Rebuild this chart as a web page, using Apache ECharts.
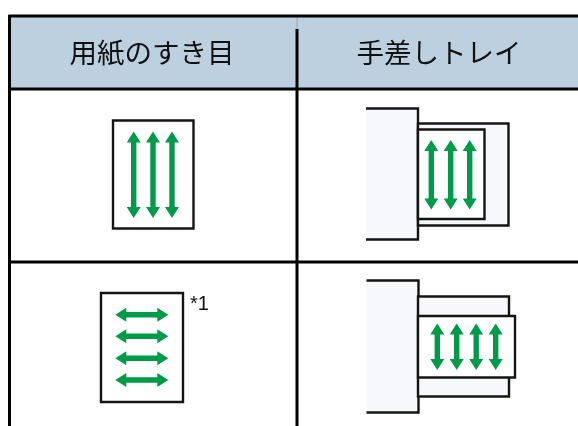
<!DOCTYPE html>
<html>
<head>
<meta charset="utf-8">
<style>html,body{margin:0;padding:0;background:#fff}#main{width:578px;height:426px}</style>
<script src="https://cdn.jsdelivr.net/npm/echarts@6/dist/echarts.min.js"></script>
</head>
<body>
<div id="main"></div>
<script>
var headers = [['用紙のすき目', 152, 53], ['手差しトレイ', 439, 53]];
var footnote = ['*1', 199.5, 304];

var headerBand = [[10, 16, 578, 89]];
var tableLines = [
    [9.5, 15, 9.5, 426],
    [297, 29, 297, 426],
    [8.5, 16, 578, 16],
    [9, 89, 578, 89],
    [9, 262, 578, 262]
];
var headerFaintLine = [[297, 17, 297, 29]];

// x0, y0, x1, y1
var sheets = [
    [113, 120.5, 193.5, 228.5],
    [101, 293, 183, 402],
    [418, 129.5, 484.5, 219],
    [418, 316, 515, 377.5]
];
var trays = [
    [418, 123.5, 508.5, 225.5],
    [418, 296.5, 509, 396.5]
];
// open on the left: only top, right and bottom get a line
var bodies = [
    [366, 108.5, 418, 239.5],
    [366.5, 280.5, 418.5, 412.5]
];

var grainUp = [
    [133.7, 131.5, 133.7, 218],
    [153, 131.5, 153, 218],
    [172, 131.5, 172, 218],
    [431.3, 140, 431.3, 209.5],
    [450.7, 140, 450.7, 209.5],
    [469.7, 140, 469.7, 209.5],
    [437.3, 323.5, 437.3, 370],
    [456.7, 323.5, 456.7, 370],
    [476.2, 323.5, 476.2, 370],
    [495.7, 323.5, 495.7, 370]
];
var grainAcross = [
    [115.3, 314.7, 168.3, 314.7],
    [115.3, 336.3, 168.3, 336.3],
    [115.3, 358.3, 168.3, 358.3],
    [115.3, 380, 168.3, 380]
];

var INK = '#141414';
var GREEN = '#009b48';

function box(fill, stroke, lw) {
    return function (params, api) {
        var a = api.coord([api.value(0), api.value(1)]);
        var b = api.coord([api.value(2), api.value(3)]);
        return {
            type: 'rect',
            shape: {x: a[0], y: a[1], width: b[0] - a[0], height: b[1] - a[1]},
            style: {fill: fill, stroke: stroke, lineWidth: lw}
        };
    };
}

function line(color, lw) {
    return function (params, api) {
        var a = api.coord([api.value(0), api.value(1)]);
        var b = api.coord([api.value(2), api.value(3)]);
        return {
            type: 'line',
            shape: {x1: a[0], y1: a[1], x2: b[0], y2: b[1]},
            style: {stroke: color, lineWidth: lw}
        };
    };
}

function body(params, api) {
    var a = api.coord([api.value(0), api.value(1)]);
    var b = api.coord([api.value(2), api.value(3)]);
    return {
        type: 'group',
        children: [
            {type: 'rect', shape: {x: a[0], y: a[1], width: b[0] - a[0], height: b[1] - a[1]},
                style: {fill: '#f7f8fb'}},
            {type: 'polyline', shape: {points: [[a[0], a[1]], [b[0], a[1]], [b[0], b[1]], [a[0], b[1]]]},
                style: {fill: 'none', stroke: INK, lineWidth: 2.4}}
        ]
    };
}

// double headed arrow between two points
function arrow(params, api) {
    var a = api.coord([api.value(0), api.value(1)]);
    var b = api.coord([api.value(2), api.value(3)]);
    var len = Math.sqrt((b[0] - a[0]) * (b[0] - a[0]) + (b[1] - a[1]) * (b[1] - a[1]));
    var ux = (b[0] - a[0]) / len, uy = (b[1] - a[1]) / len;
    var nx = -uy, ny = ux;
    var head = 11, hw = 7, sw = 2.7;
    function p(along, off) {
        return [a[0] + ux * along + nx * off, a[1] + uy * along + ny * off];
    }
    return {
        type: 'polygon',
        shape: {points: [
            p(0, 0), p(head, hw), p(head, sw), p(len - head, sw), p(len - head, hw),
            p(len, 0), p(len - head, -hw), p(len - head, -sw), p(head, -sw), p(head, -hw)
        ]},
        style: {fill: GREEN}
    };
}

function label(size, family, color) {
    return function (params, api) {
        var c = api.coord([api.value(1), api.value(2)]);
        return {
            type: 'text',
            style: {
                text: api.value(0), x: c[0], y: c[1], align: 'center', verticalAlign: 'middle',
                font: size + 'px ' + family, fill: color
            }
        };
    };
}

function layer(data, renderItem, z, dims) {
    return {
        type: 'custom', data: data, renderItem: renderItem, z: z, silent: true,
        coordinateSystem: 'cartesian2d', clip: false,
        dimensions: dims, encode: {x: dims ? 1 : 0, y: dims ? 2 : 1}
    };
}

var chart = echarts.init(document.getElementById('main'));
chart.setOption({
    animation: false,
    backgroundColor: '#ffffff',
    grid: {left: 0, right: 0, top: 0, bottom: 0},
    xAxis: {type: 'value', min: 0, max: 578, show: false},
    yAxis: {type: 'value', min: 0, max: 426, inverse: true, show: false},
    series: [
        layer(headerBand, box('#bdd0e0', 'none', 0), 1),
        layer(headerFaintLine, line('#8fa3b5', 1), 2),
        layer(tableLines, line('#000000', 3), 3),
        layer(bodies, body, 4),
        layer(trays, box('#f7f8fb', INK, 2.4), 5),
        layer(sheets, box('#ffffff', INK, 2.4), 6),
        layer(grainUp, arrow, 7),
        layer(grainAcross, arrow, 7),
        layer(headers, label(27.5, '"Noto Sans CJK JP"', '#111111'), 8, ['t', 'x', 'y']),
        layer([footnote], label(20, '"Liberation Sans"', '#111111'), 8, ['t', 'x', 'y'])
    ]
});
</script>
</body>
</html>
